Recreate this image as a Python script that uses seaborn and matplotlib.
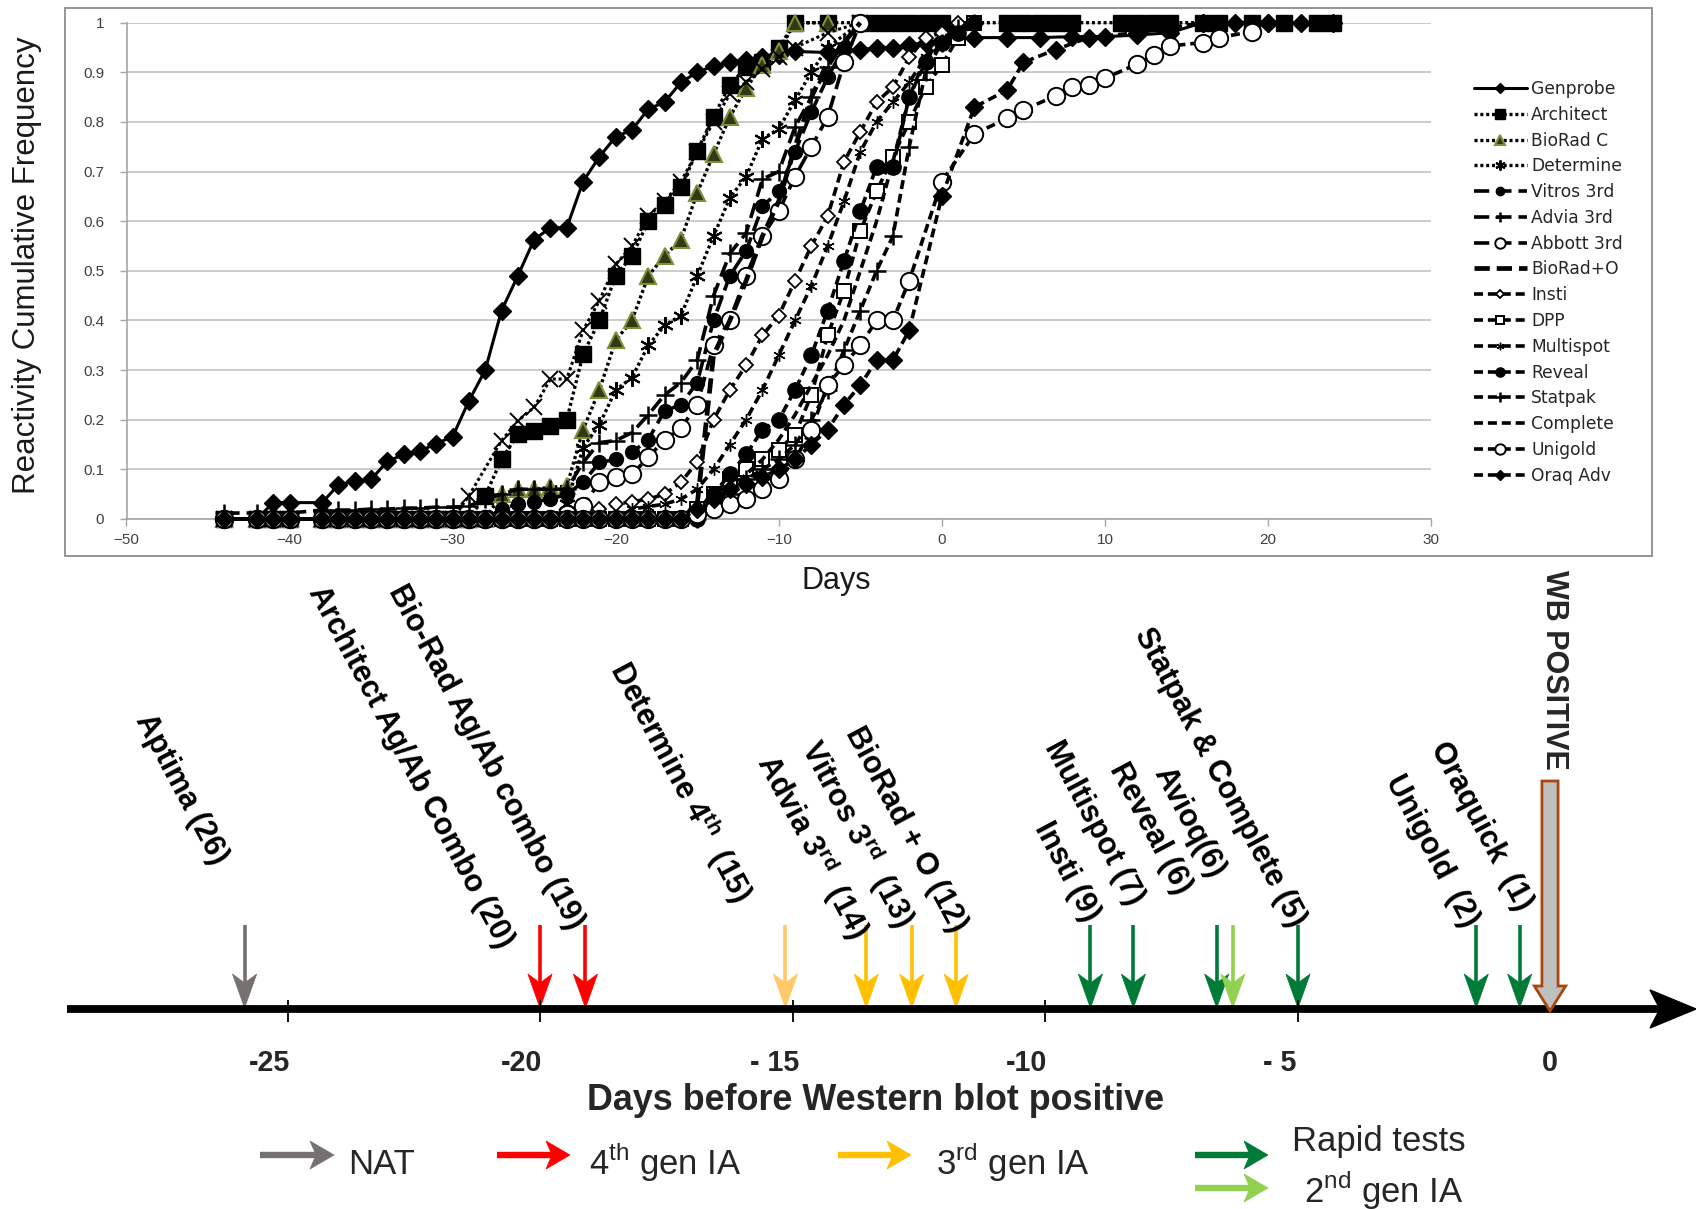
import matplotlib
matplotlib.use('Agg')
import matplotlib.pyplot as plt
import seaborn as sns
from matplotlib import font_manager as fm
from matplotlib.patches import Polygon, Rectangle

sns.set_theme(style='white')

avail = {f.name for f in fm.fontManager.ttflist}
def pick(*names):
    for n in names:
        if n in avail:
            return n
    return 'DejaVu Sans'
ARIAL = pick('Liberation Sans', 'Arimo', 'DejaVu Sans')
NARROW = pick('Liberation Sans Narrow', 'Liberation Sans')
NS = 1.0 if NARROW == 'Liberation Sans Narrow' else 0.86

plt.rcParams.update({
    'font.family': [ARIAL, 'DejaVu Sans'],
    'mathtext.fontset': 'custom',
    'mathtext.rm': NARROW,
    'mathtext.bf': ARIAL + ':bold',
    'lines.scale_dashes': False,
})

# ---------------- data: top chart ----------------
ZERO_DAYS = [-44, -42, -41, -40, -38, -37, -36, -35, -34, -33, -32, -31, -30, -29,
             -28, -27, -26, -25, -24, -23, -22, -21, -20, -19, -18, -17, -16, -15]
ZERO_VALS = [0, 0, 0, 0, 0, 0, 0, 0, 0, 0, 0, 0, 0, 0,
             0, 0, 0, 0, 0, 0, 0, 0, 0, 0, 0, 0, 0, 0]

GENPROBE_D = [-44, -42, -41, -40, -38, -37, -36, -35, -34, -33, -32, -31, -30, -29, -28, -27,
              -26, -25, -24, -23, -22, -21, -20, -19, -18, -17, -16, -15, -14, -13, -12, -11,
              -10, -9, -7, -6, -5, -4, -3, -2, -1, 0, 2, 4, 6, 8, 10, 12, 14, 16, 18, 20, 22, 24]
GENPROBE_V = [0, 0, 0.033, 0.033, 0.033, 0.069, 0.076, 0.08, 0.116, 0.13, 0.137, 0.152, 0.166,
              0.238, 0.30, 0.42, 0.49, 0.563, 0.587, 0.587, 0.68, 0.73, 0.77, 0.784, 0.826, 0.84,
              0.88, 0.90, 0.913, 0.92, 0.924, 0.93, 0.935, 0.942, 0.94, 0.945, 0.945, 0.95, 0.95,
              0.955, 0.96, 0.965, 0.97, 0.97, 0.97, 0.972, 0.972, 0.975, 0.98, 1, 1, 1, 1, 1]

ARCH_D = [-28, -27, -26, -25, -24, -23, -22, -21, -20, -19, -18, -17, -16, -15, -14, -13, -12,
          -11, -10, -9, -7, -5, -4, -3, -2, -1, 0, 4, 5, 6, 7, 8, 11, 12, 13, 14, 16, 17, 19,
          21, 23, 24]
ARCH_V = [0.047, 0.12, 0.171, 0.178, 0.188, 0.2, 0.332, 0.40, 0.49, 0.53, 0.60, 0.632, 0.668,
          0.742, 0.81, 0.875, 0.91, 0.92, 0.95, 1, 1, 1, 1, 1, 1, 1, 1, 1, 1, 1, 1, 1, 1, 1, 1,
          1, 1, 1, 1, 1, 1, 1]

BIORADC_D = [-27, -26, -25, -24, -23, -22, -21, -20, -19, -18, -17, -16, -15, -14, -13, -12,
             -11, -10, -9, -7]
BIORADC_V = [0.05, 0.06, 0.06, 0.064, 0.066, 0.18, 0.26, 0.36, 0.40, 0.49, 0.53, 0.563, 0.657,
             0.735, 0.81, 0.868, 0.915, 0.942, 1, 1]

XCURVE_D = [-29, -27, -26, -25, -24, -23, -22, -21, -20, -19, -18, -17, -16, -15, -14, -13,
            -12, -11, -10, -9, -7, -5]
XCURVE_V = [0.047, 0.158, 0.198, 0.225, 0.282, 0.282, 0.38, 0.44, 0.513, 0.55, 0.61, 0.64,
            0.68, 0.74, 0.80, 0.856, 0.88, 0.906, 0.93, 0.95, 0.98, 1]

DETERM_D = [-23, -22, -21, -20, -19, -18, -17, -16, -15, -14, -13, -12, -11, -10, -9, -8, -7, -5]
DETERM_V = [0.03, 0.144, 0.19, 0.26, 0.285, 0.35, 0.39, 0.41, 0.49, 0.57, 0.647, 0.69, 0.766,
            0.786, 0.844, 0.90, 0.95, 1]

VITROS_D = [-27, -26, -25, -24, -23, -22, -21, -20, -19, -18, -17, -16, -15, -14, -13, -12,
            -11, -10, -9, -8, -7, -6, -5]
VITROS_V = [0.02, 0.03, 0.035, 0.04, 0.05, 0.074, 0.114, 0.12, 0.134, 0.16, 0.218, 0.23, 0.275,
            0.40, 0.49, 0.54, 0.63, 0.66, 0.74, 0.82, 0.89, 0.95, 1]

ADVIA_D = [-44, -42, -41, -40, -38, -37, -36, -35, -34, -33, -32, -31, -30, -29, -28, -27, -26,
           -25, -24, -23, -22, -21, -20, -19, -18, -17, -16, -15, -14, -13, -12, -11, -10, -9,
           -8, -7, -6, -5]
ADVIA_V = [0.012, 0.012, 0.012, 0.012, 0.018, 0.018, 0.018, 0.02, 0.02, 0.022, 0.022, 0.024,
           0.024, 0.026, 0.04, 0.05, 0.06, 0.06, 0.06, 0.06, 0.114, 0.154, 0.158, 0.174, 0.21,
           0.25, 0.275, 0.32, 0.45, 0.535, 0.576, 0.685, 0.70, 0.79, 0.85, 0.91, 0.96, 1]

ABBOTT_D = [-23, -22, -21, -20, -19, -18, -17, -16, -15, -14, -13, -12, -11, -10, -9, -8, -7, -6, -5]
ABBOTT_V = [0.01, 0.027, 0.074, 0.084, 0.09, 0.124, 0.16, 0.183, 0.23, 0.35, 0.40, 0.49, 0.57,
            0.62, 0.69, 0.75, 0.81, 0.92, 1]

BIORADO_D = [-16, -15, -14, -13, -12, -11, -10, -9, -8, -7, -6, -5]
BIORADO_V = [0, 0.03, 0.33, 0.40, 0.48, 0.57, 0.64, 0.75, 0.85, 0.92, 0.96, 1]

INSTI_D = [-21, -20, -19, -18, -17, -16, -15, -14, -13, -12, -11, -10, -9, -8, -7, -6, -5, -4,
           -3, -2, -1, 0, 1]
INSTI_V = [0.02, 0.03, 0.035, 0.04, 0.05, 0.074, 0.115, 0.20, 0.26, 0.31, 0.37, 0.41, 0.48, 0.55,
           0.61, 0.72, 0.78, 0.84, 0.87, 0.93, 0.97, 0.98, 1]

DPP_D = [-15, -14, -13, -12, -11, -10, -9, -8, -7, -6, -5, -4, -3, -2, -1, 0, 1, 2]
DPP_V = [0.02, 0.05, 0.08, 0.10, 0.12, 0.14, 0.17, 0.25, 0.37, 0.46, 0.58, 0.66, 0.73, 0.80,
         0.87, 0.915, 0.97, 1]

MULTI_D = [-19, -18, -17, -16, -15, -14, -13, -12, -11, -10, -9, -8, -7, -6, -5, -4, -3, -2, -1,
           0, 1, 2]
MULTI_V = [0.02, 0.025, 0.03, 0.04, 0.06, 0.10, 0.15, 0.20, 0.26, 0.33, 0.40, 0.47, 0.55, 0.64,
           0.74, 0.80, 0.84, 0.88, 0.93, 0.96, 0.98, 1]

REVEAL_D = [-14, -13, -12, -11, -10, -9, -8, -7, -6, -5, -4, -3, -2, -1, 0, 1, 2]
REVEAL_V = [0.05, 0.09, 0.13, 0.18, 0.20, 0.26, 0.33, 0.42, 0.52, 0.62, 0.71, 0.71, 0.85, 0.92,
            0.96, 0.98, 1]

STATPAK_D = [-14, -13, -12, -11, -10, -9, -8, -7, -6, -5, -4, -3, -2, -1, 0, 1, 2]
STATPAK_V = [0.03, 0.05, 0.08, 0.10, 0.12, 0.15, 0.20, 0.26, 0.34, 0.42, 0.50, 0.57, 0.75, 0.90,
             0.96, 0.99, 1]

COMPLETE_D = [-15, -14, -13, -12, -11, -10, -9, -8, -7, -6, -5, -4, -3, -2, -1, 0, 2]
COMPLETE_V = [0, 0.03, 0.06, 0.09, 0.12, 0.16, 0.21, 0.27, 0.33, 0.40, 0.50, 0.60, 0.72, 0.85,
              0.93, 0.97, 1]

UNIGOLD_D = [-15, -14, -13, -12, -11, -10, -9, -8, -7, -6, -5, -4, -3, -2, 0, 2, 4, 5, 7, 8, 9,
             10, 12, 13, 14, 16, 17, 19]
UNIGOLD_V = [0.01, 0.02, 0.03, 0.04, 0.06, 0.08, 0.12, 0.18, 0.27, 0.31, 0.35, 0.40, 0.40, 0.48,
             0.68, 0.776, 0.807, 0.824, 0.853, 0.87, 0.874, 0.888, 0.917, 0.935, 0.953, 0.96,
             0.97, 0.982]

ORAQ_D = [-15, -14, -13, -12, -11, -10, -9, -8, -7, -6, -5, -4, -3, -2, 0, 2, 4, 5, 7, 9, 12, 16, 20]
ORAQ_V = [0.02, 0.04, 0.06, 0.07, 0.085, 0.10, 0.12, 0.15, 0.18, 0.23, 0.27, 0.32, 0.32, 0.38,
          0.65, 0.83, 0.864, 0.92, 0.946, 0.97, 0.98, 1, 1]

# ---------------- data: timeline ----------------
AXIS_TICKS = [-25, -20, -15, -10, -5, 0]
AXIS_TICK_LABELS = ['-25', '-20', '- 15', '-10', '- 5', '0']
ARROW_DAYS = [-25.85, -20.0, -19.1, -15.14, -13.54, -12.64, -11.76, -9.10, -8.25, -6.60, -6.28,
              -4.99, -1.46, -0.60]
ARROW_GROUP = ['NAT', '4th', '4th', '4th_light', '3rd', '3rd', '3rd', 'rapid', 'rapid', 'rapid',
               '2nd', 'rapid', 'rapid', 'rapid']
TEST_LABELS = ['Aptima (26)', 'Architect Ag/Ab Combo (20)', 'Bio-Rad Ag/Ab combo (19)',
               r'Determine 4$^{\mathbf{th}}$  (15)', r'Advia 3$^{\mathbf{rd}}$  (14)',
               r'Vitros 3$^{\mathbf{rd}}$  (13)', 'BioRad + O (12)', 'Insti (9)', 'Multispot (7)',
               'Reveal (6)', 'Avioq(6)', 'Statpak & Complete (5)', 'Unigold  (2)', 'Oraquick  (1)']
WB_DAY = 0
LEGEND_NAMES = ['NAT', r'4$^{\mathrm{th}}$ gen IA', r'3$^{\mathrm{rd}}$ gen IA', 'Rapid tests',
                r'2$^{\mathrm{nd}}$ gen IA']

# ---------------- layout / style ----------------
GROUP_COLORS = {'NAT': '#767171', '4th': '#ff0000', '4th_light': '#ffc869', '3rd': '#ffc000',
                'rapid': '#007a37', '2nd': '#92d050'}
LABEL_ENDS = [(220, 862), (506, 946), (576, 927), (744, 900), (860, 936), (906, 925), (959, 930),
              (1092, 919), (1136, 903), (1184, 892), (1217, 876), (1298, 925), (1471, 925),
              (1525, 909)]

W, H = 1696, 1209
fig = plt.figure(figsize=(W / 100, H / 100), dpi=100)


def fx(px):
    return px / W


def fy(py):
    return 1 - py / H


def px2day(px):
    return (px - 1550) / 50.5


def with_zeros(first_day, days, vals):
    n = sum(1 for d in ZERO_DAYS if d < first_day)
    return ZERO_DAYS[:n] + list(days), ZERO_VALS[:n] + list(vals)


# ---- timeline axes (whole figure, x in days, y in pixels) ----
ax2 = fig.add_axes([0, 0, 1, 1])
ax2.set_xlim(px2day(0), px2day(W))
ax2.set_ylim(H, 0)
ax2.axis('off')

# ---- top chart ----
ax = fig.add_axes([fx(126.5), fy(519), fx(1431) - fx(126.5), fy(22.7) - fy(519)])
fig.add_artist(Rectangle((fx(65), fy(556)), fx(1652) - fx(65), fy(8) - fy(556),
                         transform=fig.transFigure, fill=False, ec='#8c8c8c', lw=1.3))

DOT = (0, (2.2, 2.0))
LDASH = (0, (11, 5))
DASH = (0, (6.5, 3.5))

series = [
    ('Genprobe', GENPROBE_D, GENPROBE_V, dict(ls='-', lw=2.2, marker='D', ms=9, mfc='black', mew=1)),
    ('Architect',) + with_zeros(-28, ARCH_D, ARCH_V) + (dict(ls=DOT, lw=2.4, marker='s', ms=11.5, mfc='black', mew=1),),
    ('BioRad C',) + with_zeros(-27, BIORADC_D, BIORADC_V) + (dict(ls=DOT, lw=2.4, marker='^', ms=12, mfc='#2f3a12', mec='#7d8f3c', mew=1.5),),
    ('_xcurve',) + with_zeros(-29, XCURVE_D, XCURVE_V) + (dict(ls=DOT, lw=2.2, marker='x', ms=11, mew=1.4),),
    ('Determine',) + with_zeros(-23, DETERM_D, DETERM_V) + (dict(ls=DOT, lw=2.4, marker=(6, 2, 0), ms=12, mew=1.5),),
    ('Vitros 3rd',) + with_zeros(-27, VITROS_D, VITROS_V) + (dict(ls=LDASH, lw=2.6, marker='o', ms=10, mfc='black', mew=1),),
    ('Advia 3rd', ADVIA_D, ADVIA_V, dict(ls=LDASH, lw=2.6, marker='+', ms=13, mew=1.8)),
    ('Abbott 3rd',) + with_zeros(-23, ABBOTT_D, ABBOTT_V) + (dict(ls=LDASH, lw=2.6, marker='o', ms=12.5, mfc='white', mew=1.4),),
    ('BioRad+O', BIORADO_D, BIORADO_V, dict(ls=LDASH, lw=3.4)),
    ('Insti',) + with_zeros(-21, INSTI_D, INSTI_V) + (dict(ls=DASH, lw=2.6, marker='D', ms=7.5, mfc='white', mew=1.3),),
    ('DPP',) + with_zeros(-15, DPP_D, DPP_V) + (dict(ls=DASH, lw=2.6, marker='s', ms=10.5, mfc='white', mew=1.4),),
    ('Multispot',) + with_zeros(-19, MULTI_D, MULTI_V) + (dict(ls=DASH, lw=2.6, marker=(6, 2, 0), ms=9, mew=1),),
    ('Reveal',) + with_zeros(-14, REVEAL_D, REVEAL_V) + (dict(ls=DASH, lw=2.6, marker='o', ms=11, mfc='black', mew=1),),
    ('Statpak',) + with_zeros(-14, STATPAK_D, STATPAK_V) + (dict(ls=DASH, lw=2.6, marker='+', ms=13, mew=1.8),),
    ('Complete', COMPLETE_D, COMPLETE_V, dict(ls=DASH, lw=2.6)),
    ('Unigold',) + with_zeros(-15, UNIGOLD_D, UNIGOLD_V) + (dict(ls=DASH, lw=2.6, marker='o', ms=12.5, mfc='white', mew=1.4),),
    ('Oraq Adv',) + with_zeros(-15, ORAQ_D, ORAQ_V) + (dict(ls=DASH, lw=2.6, marker='D', ms=9, mfc='black', mew=1),),
]

handles, names = [], []
for name, d, v, st in series:
    kw = dict(color='black', linestyle=st['ls'], linewidth=st['lw'], clip_on=False, zorder=3)
    if 'marker' in st:
        kw.update(marker=st['marker'], markersize=st['ms'], markerfacecolor=st.get('mfc', 'black'),
                  markeredgecolor=st.get('mec', 'black'), markeredgewidth=st.get('mew', 1))
    sns.lineplot(x=d, y=v, ax=ax, estimator=None, sort=False, legend=False, **kw)
    ln = ax.get_lines()[-1]
    ln.set_dash_capstyle('butt')
    if not name.startswith('_'):
        handles.append(ln)
        names.append(name)

ax.set_xlim(-50, 30)
ax.set_ylim(0, 1)
ax.set_xticks(range(-50, 31, 10))
ax.set_yticks([i / 10 for i in range(11)])
ax.set_yticklabels(['0'] + ['0.%d' % i for i in range(1, 10)] + ['1'])
ax.yaxis.grid(True, color='#c8c8c8', lw=1.3, zorder=0)
ax.xaxis.grid(False)
ax.set_axisbelow(True)
for s in ['top', 'right']:
    ax.spines[s].set_visible(False)
for s in ['left', 'bottom']:
    ax.spines[s].set_color('#a6a6a6')
    ax.spines[s].set_linewidth(1.2)
ax.tick_params(axis='both', which='major', direction='out', length=5, width=1, color='#a6a6a6',
               labelsize=11, labelcolor='#404040')
ax.tick_params(axis='y', pad=11, left=True)
ax.tick_params(axis='x', pad=5, bottom=True)
ax.set_xlabel('')
ax.set_ylabel('')

ax.legend(handles, names, loc='upper left', bbox_to_anchor=(fx(1474), fy(80)),
          bbox_transform=fig.transFigure, frameon=False, prop={'family': 'DejaVu Sans', 'size': 12.3},
          handlelength=3.1, handletextpad=0.25, labelspacing=0.455, borderpad=0, borderaxespad=0,
          markerscale=0.6)

fig.text(fx(27), fy(265), 'Reactivity Cumulative Frequency', rotation=90, ha='center', va='center',
         fontsize=22.5, color='#1a1a1a')
fig.text(fx(836), fy(581), 'Days', ha='center', va='center', fontsize=22, color='#1a1a1a')

# ---------------- timeline ----------------
AXIS_Y = 1009
ax2.plot([px2day(67), px2day(1664)], [AXIS_Y, AXIS_Y], color='black', lw=5.6, solid_capstyle='butt')
ax2.add_patch(Polygon([(px2day(1696), AXIS_Y), (px2day(1650), AXIS_Y - 19), (px2day(1660), AXIS_Y),
                       (px2day(1650), AXIS_Y + 19)], closed=True, fc='black', ec='black'))
ax2.vlines(AXIS_TICKS[:-1], 1000, 1022, color='black', lw=1.3)
for t, lab in zip(AXIS_TICKS, AXIS_TICK_LABELS):
    shift = 0 if t == 0 else -0.36
    ax2.text(t + shift, 1063, lab, ha='center', va='center', fontsize=24 * NS, fontweight='bold',
             family=NARROW)
ax2.text(px2day(876), 1100, 'Days before Western blot positive', ha='center', va='center',
         fontsize=30 * NS, fontweight='bold', family=NARROW)


def down_arrow(day, color, top=925, tip=1008, hl=34, hw=0.24, notch=9, lw=2.6):
    ax2.plot([day, day], [top, tip - hl + notch], color=color, lw=lw, solid_capstyle='butt')
    ax2.add_patch(Polygon([(day, tip), (day - hw, tip - hl), (day, tip - hl + notch),
                           (day + hw, tip - hl)], closed=True, fc=color, ec=color, lw=0.5))


for d, g in zip(ARROW_DAYS, ARROW_GROUP):
    down_arrow(d, GROUP_COLORS[g])

for lab, (ex, ey) in zip(TEST_LABELS, LABEL_ENDS):
    ax2.text(px2day(ex), ey, lab, rotation=-62, rotation_mode='anchor', ha='right', va='center',
             fontsize=22, fontweight='bold', color='black')

# WB positive block arrow
wb = WB_DAY
ax2.add_patch(Polygon([(wb - 0.16, 781), (wb + 0.16, 781), (wb + 0.16, 986), (wb + 0.31, 986),
                       (wb, 1011), (wb - 0.31, 986), (wb - 0.16, 986)], closed=True,
                      fc='#bfbfbf', ec='#a9470f', lw=2, zorder=4))
ax2.text(wb + 0.08, 670, 'WB POSITIVE', rotation=-90, ha='center', va='center', fontsize=22,
         fontweight='bold')


# legend of arrows
def right_arrow(x0, x1, y, color, hl=24, hh=14, notch=6, lw=4.6):
    ax2.plot([px2day(x0), px2day(x1 - hl + notch)], [y, y], color=color, lw=lw, solid_capstyle='butt')
    ax2.add_patch(Polygon([(px2day(x1), y), (px2day(x1 - hl), y - hh), (px2day(x1 - hl + notch), y),
                           (px2day(x1 - hl), y + hh)], closed=True, fc=color, ec=color, lw=0.5))


LEG_ARROWS = [(260, 334, 1155, 'NAT'), (497, 570, 1155, '4th'), (838, 911, 1155, '3rd'),
              (1195, 1268, 1155, 'rapid'), (1195, 1268, 1188, '2nd')]
LEG_TEXT_POS = [(348, 1164, 'left'), (589, 1162, 'left'), (936, 1162, 'left'), (1379, 1141, 'center'),
                (1384, 1190, 'center')]
for (x0, x1, y, g) in LEG_ARROWS:
    right_arrow(x0, x1, y, GROUP_COLORS[g])
for name, (tx, ty, ha) in zip(LEGEND_NAMES, LEG_TEXT_POS):
    ax2.text(px2day(tx), ty, name, ha=ha, va='center', fontsize=29 * NS, family=NARROW)

fig.savefig('out.png', dpi=100)
